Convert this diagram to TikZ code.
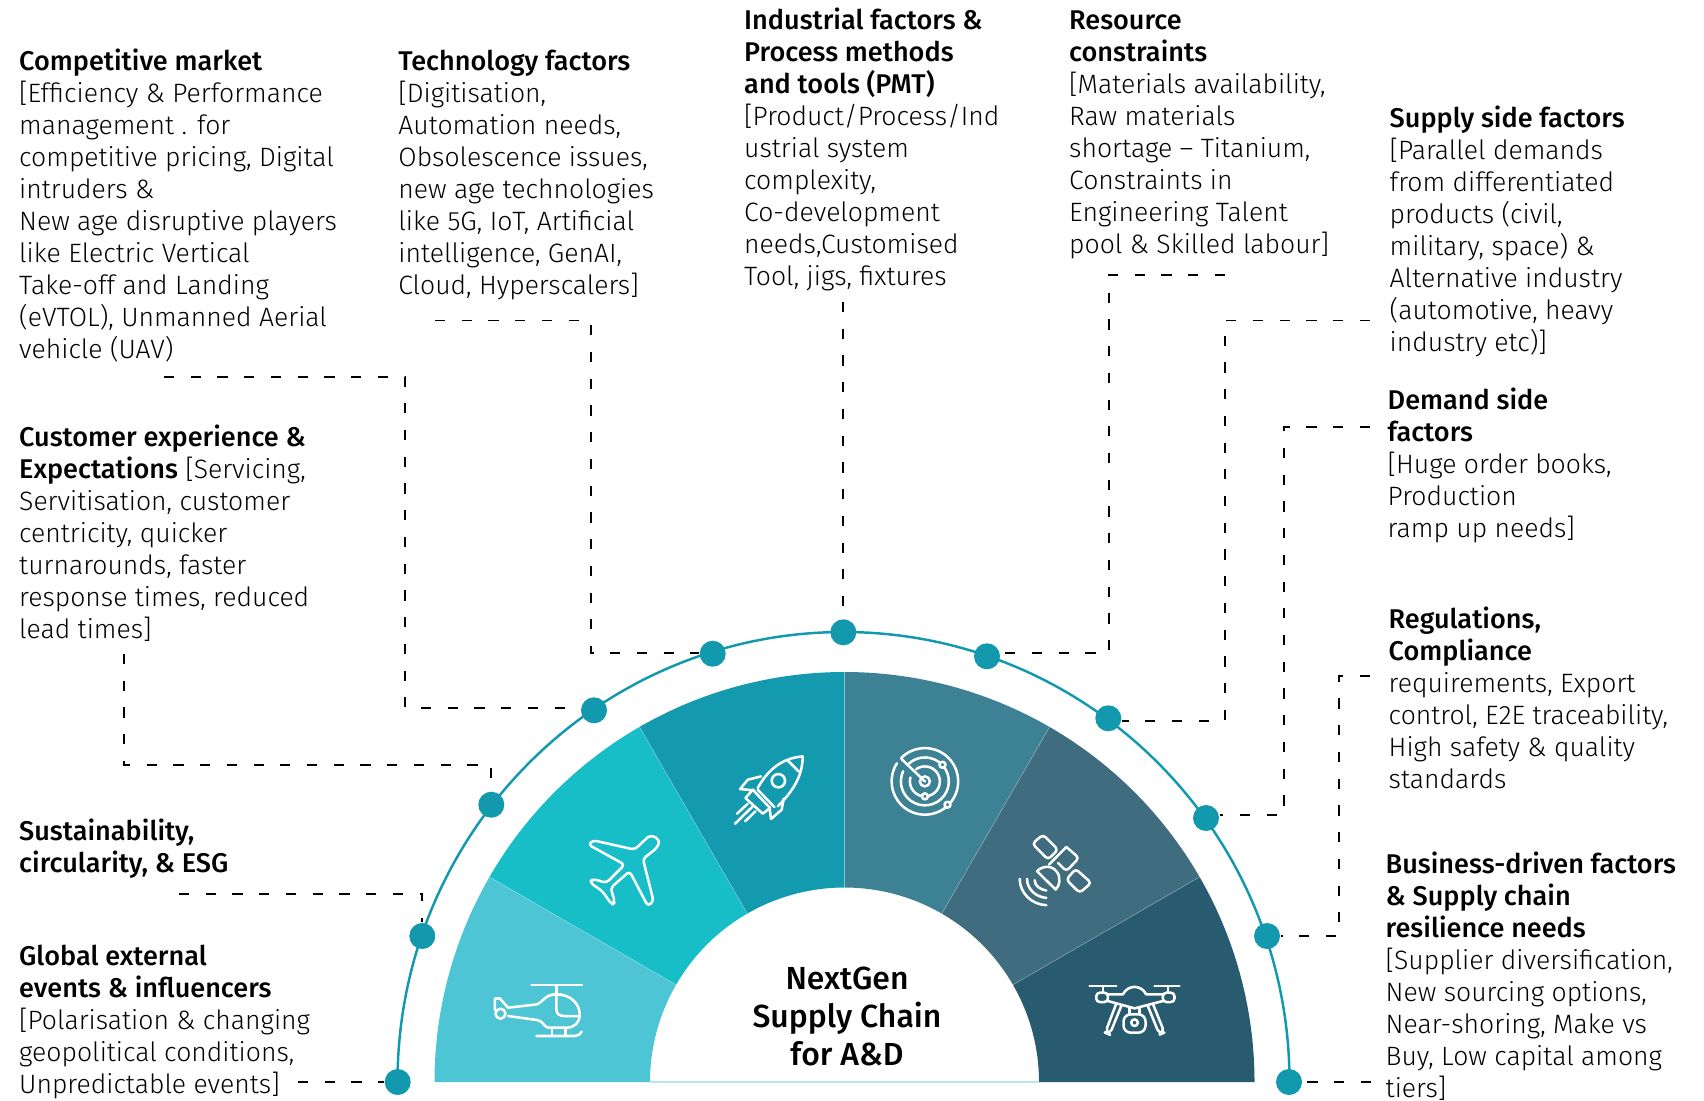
\documentclass[tikz,border=0pt]{standalone}
\usepackage{fontspec}
\setmainfont{Fira Sans}[UprightFont=* Light,BoldFont=* Medium,BoldFeatures={Scale=1.02}]
\usetikzlibrary{calc}
\definecolor{ringteal}{HTML}{1399AE}
\definecolor{secA}{HTML}{4EC5D4}
\definecolor{secB}{HTML}{17BEC8}
\definecolor{secC}{HTML}{149AAE}
\definecolor{secD}{HTML}{3D8195}
\definecolor{secE}{HTML}{3F6C7F}
\definecolor{secF}{HTML}{285B6F}
\tikzset{
  factor/.style={anchor=north west,inner sep=0pt,align=left,text=black,font=\fontsize{7.55}{9.1}\selectfont},
  title/.style={inner sep=0pt,align=center,font=\fontsize{8.9}{10.8}\selectfont\bfseries},
  dot/.style={circle,fill=ringteal,inner sep=0pt,minimum size=2.6mm},
  leader/.style={line width=0.5pt,dash pattern=on 2.9pt off 4.7pt},
  icon/.style={draw=white,line width=0.72pt,line cap=round,line join=round,x=0.003333cm,y=-0.003333cm},
}
\def\sectorfill#1#2#3{%
  \fill[#3] ($(hub)+(#1:410)$) arc[start angle=#1,end angle=#2,radius=410]
    -- ($(hub)+(#2:194.5)$) arc[start angle=#2,end angle=#1,radius=194.5] -- cycle;
}
\begin{document}
\begin{tikzpicture}[x=0.01cm,y=-0.01cm]
    \useasboundingbox (0,0) rectangle (1704,1100);
    \coordinate (hub) at (844.5,1082);

    % Sectors
    \sectorfill{180}{210}{secA}
    \sectorfill{210}{240}{secB}
    \sectorfill{240}{270}{secC}
    \sectorfill{270}{300}{secD}
    \sectorfill{300}{330}{secE}
    \sectorfill{330}{360}{secF}
    \foreach \a in {210,240,270,300,330}
      \draw[white,opacity=0.3,line width=0.2pt] ($(hub)+(\a:194.5)$) -- ($(hub)+(\a:410)$);
    \draw[secA!40,line width=0.3pt] (650,1082) -- (1039,1082);

    % Ring and dots
    \draw[ringteal,line width=0.7pt] (397.5,1082) arc[start angle=180,end angle=360,x radius=446,y radius=450];
    \foreach \name/\pos in {dGlobal/{(397.7,1082)},dSustain/{(422.3,936)},dCustomer/{(491.3,804.7)},
        dMarket/{(594,710.3)},dTech/{(712.7,653.7)},dIndustry/{(843.3,632.3)},dResource/{(987,656.3)},
        dSupply/{(1108.3,718.3)},dDemand/{(1206,818)},dRegul/{(1267,936)},dBusiness/{(1289,1082)}}
      \node[dot] (\name) at \pos {};

    % Texts
    \node[factor] (market) at (18.5,48.5) {\textbf{Competitive market}\\\relax [Efficiency \& Performance\\management . for\\competitive pricing, Digital\\intruders \&\\New age disruptive players\\like Electric Vertical\\Take-off and Landing\\(eVTOL), Unmanned Aerial\\vehicle (UAV)};
    \node[factor] (tech) at (397.7,49) {\textbf{Technology factors}\\\relax [Digitisation,\\Automation needs,\\Obsolescence issues,\\new age technologies\\like 5G, IoT, Artificial\\intelligence, GenAI,\\Cloud, Hyperscalers]};
    \node[factor] (industry) at (743.5,7.5) {\textbf{Industrial factors \&}\\\textbf{Process methods}\\\textbf{and tools (PMT)}\\\relax [Product/Process/Ind\\ustrial system\\complexity,\\Co-development\\needs,Customised\\Tool, jigs, fixtures};
    \node[factor] (resource) at (1068.5,10.5) {\textbf{Resource}\\\textbf{constraints}\\\relax [Materials availability,\\Raw materials\\shortage – Titanium,\\Constraints in\\Engineering Talent\\pool \& Skilled labour]};
    \node[factor] (supply) at (1389,105) {\textbf{Supply side factors}\\\relax [Parallel demands\\from differentiated\\products (civil,\\military, space) \&\\Alternative industry\\(automotive, heavy\\industry etc)]};
    \node[factor] (demand) at (1387,387) {\textbf{Demand side}\\\textbf{factors}\\\relax [Huge order books,\\Production\\ramp up needs]};
    \node[factor] (regul) at (1388,606.5) {\textbf{Regulations,}\\\textbf{Compliance}\\requirements, Export\\control, E2E traceability,\\High safety \& quality\\standards};
    \node[factor] (business) at (1385,851) {\textbf{Business-driven factors}\\\textbf{\& Supply chain}\\\textbf{resilience needs}\\\relax [Supplier diversification,\\New sourcing options,\\Near-shoring, Make vs\\Buy, Low capital among\\tiers]};
    \node[factor] (customer) at (18.5,424) {\textbf{Customer experience \&}\\\textbf{Expectations} [Servicing,\\Servitisation, customer\\centricity, quicker\\turnarounds, faster\\response times, reduced\\lead times]};
    \node[factor] (sustain) at (18.5,818.5) {\textbf{Sustainability,}\\\textbf{circularity, \& ESG}};
    \node[factor] (global) at (18.5,944) {\textbf{Global external}\\\textbf{events \& influencers}\\\relax [Polarisation \& changing\\geopolitical conditions,\\Unpredictable events]};
    \node[title] (centre) at (847,1016) {NextGen\\Supply Chain\\for A\&D};

    % Leaders
    \coordinate (sMarket) at (164,377);
    \coordinate (kMarket) at (405,708);
    \coordinate (sTech) at (435,320.6);
    \coordinate (kTech) at (590.7,653.3);
    \coordinate (sIndustry) at (843.3,302);
    \coordinate (sResource) at (1225,275);
    \coordinate (kResource) at (1109,653.3);
    \coordinate (sSupply) at (1370,320.6);
    \coordinate (kSupply) at (1224.7,720.7);
    \coordinate (sDemand) at (1370,427);
    \coordinate (kDemand) at (1284,815);
    \coordinate (sRegul) at (1370,676);
    \coordinate (kRegul) at (1339,936);
    \coordinate (sBusiness) at (1371,1082);
    \coordinate (sCustomer) at (124,654);
    \coordinate (kCustomer) at (491.3,765);
    \coordinate (sSustain) at (179,894);
    \coordinate (kSustain) at (422.3,894);
    \coordinate (sGlobal) at (298,1082);
    \draw[leader] (sGlobal) -- (dGlobal);
    \draw[leader] (sSustain) -- (kSustain) -- (dSustain);
    \draw[leader] (sCustomer) |- (kCustomer) -- (dCustomer);
    \draw[leader] (sMarket) -| (kMarket) -- (kMarket -| dMarket.west);
    \draw[leader] (sTech) -| (kTech) -- (kTech -| dTech.west);
    \draw[leader] (sIndustry) -- (dIndustry);
    \draw[leader] (sResource) -| (kResource) -- (kResource -| dResource.east);
    \draw[leader] (sSupply) -| (kSupply) -- (kSupply -| dSupply.east);
    \draw[leader] (sDemand) -| (kDemand) -- (kDemand -| dDemand.east);
    \draw[leader] (sRegul) -| (kRegul) -- (dRegul);
    \draw[leader] (sBusiness) -- (dBusiness);

    % Helicopter
    \begin{scope}[shift={(380,600)},icon]
      \draw (455,1157) -- (607,1157) (530,1157) -- (530,1182);
      \draw (518,1185) -- (545,1185);
      \draw (385,1225) -- (472,1215) .. controls (490,1208) and (495,1185) .. (530,1185)
        .. controls (575,1185) and (600,1215) .. (600,1245) .. controls (600,1270) and (585,1285) .. (560,1285)
        -- (505,1285) .. controls (490,1280) and (490,1265) .. (472,1262) -- (385,1250);
      \draw (362,1243) circle (15);
      \draw (345,1232) -- (345,1198) -- (360,1197) -- (385,1225);
      \draw (530,1190) -- (530,1230) .. controls (530,1245) and (540,1250) .. (555,1250) -- (600,1250);
      \draw (517,1287) -- (517,1310) (557,1287) -- (557,1310);
      \draw (470,1310) -- (585,1310) .. controls (595,1310) and (603,1305) .. (606,1297);
    \end{scope}

    % Plane
    \begin{scope}[shift={(380,600)},icon]
      \draw[rounded corners=1pt] (765,750) -- (797,720) .. controls (815,703) and (845,715) .. (832,745)
        -- (790,778) -- (822,905) -- (805,920) -- (750,815) -- (693,865) -- (706,908) -- (697,916)
        -- (668,875) -- (630,848) -- (640,838) -- (680,850) -- (735,795) -- (626,735) -- (640,722) -- cycle;
    \end{scope}

    % Rocket
    \begin{scope}[shift={(380,600)},icon]
      \draw (1135,565) .. controls (1160,520) and (1200,475) .. (1270,470)
        .. controls (1270,530) and (1240,575) .. (1195,620);
      \draw (1225,482) -- (1258,515);
      \draw (1197,543) circle (20);
      \draw (1145,530) -- (1105,540) -- (1082,568) -- (1125,572);
      \draw (1213,597) -- (1207,630) -- (1175,658) -- (1170,622);
      \draw (1120,570) -- (1172,625) -- (1150,642) -- (1098,595) -- cycle;
      \draw (1135,570) -- (1185,622);
      \draw (1067,672) -- (1120,620) (1073,642) -- (1105,612) (1097,665) -- (1128,635);
    \end{scope}

    % Radar
    \begin{scope}[shift={(840,600)},icon]
      \draw (255,545) ++(224:100) arc[start angle=224,end angle=573,radius=100];
      \draw (255,545) ++(228:72) arc[start angle=228,end angle=565,radius=72];
      \draw (255,545) ++(235:45) arc[start angle=235,end angle=555,radius=45];
      \draw (255,545) circle (15);
      \draw (255,545) -- (185,478);
      \draw[fill=secD] (308,495) circle (9) (255,590) circle (9) (323,615) circle (9);
    \end{scope}

    % Satellite
    \begin{scope}[shift={(840,600)},icon]
      \draw[rounded corners=1pt] (610,705) -- (655,750) -- (625,780) -- (578,732) -- cycle;
      \draw[rounded corners=1pt] (708,808) -- (755,850) -- (720,880) -- (680,840) -- cycle;
      \draw[rounded corners=1pt] (680,742) -- (718,775) -- (680,815) -- (655,790);
      \draw (680,742) -- (628,795);
      \draw (592,815) .. controls (605,800) and (635,795) .. (650,815)
        .. controls (665,830) and (660,860) .. (648,870) -- cycle;
      \draw (620,917) .. controls (575,915) and (540,880) .. (540,838);
      \draw (620,895) .. controls (590,893) and (562,870) .. (562,838);
      \draw (620,873) .. controls (603,870) and (585,860) .. (585,842);
    \end{scope}

    % Drone
    \begin{scope}[shift={(840,600)},icon]
      \draw (750,1160) -- (830,1160) (945,1160) -- (1020,1160);
      \draw (790,1160) -- (790,1180) (985,1160) -- (985,1180);
      \draw[rounded corners=1pt] (770,1180) rectangle (805,1208);
      \draw[rounded corners=1pt] (970,1180) rectangle (1005,1208);
      \draw (805,1185) -- (850,1185) .. controls (865,1155) and (905,1155) .. (920,1185) -- (970,1185);
      \draw (805,1205) -- (885,1227) -- (970,1205);
      \draw[rounded corners=1.5pt] (830,1213) -- (797,1300) -- (810,1306) -- (845,1220);
      \draw[rounded corners=1.5pt] (940,1213) -- (975,1300) -- (960,1306) -- (925,1220);
      \draw[rounded corners=2pt] (852,1245) rectangle (918,1300);
      \draw (885,1270) circle (10);
      \draw (870,1227) -- (870,1245) (900,1227) -- (900,1245);
    \end{scope}
\end{tikzpicture}
\end{document}
